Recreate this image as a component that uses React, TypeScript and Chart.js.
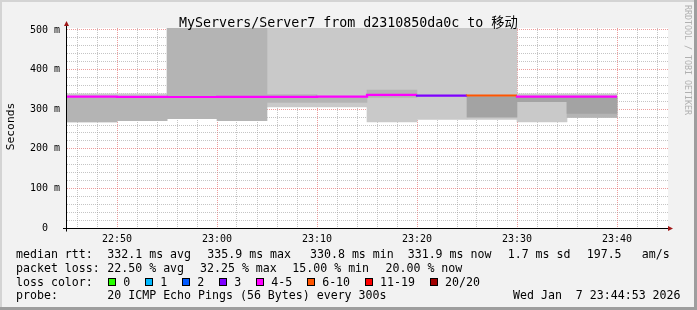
import { useEffect, useRef } from 'react';
import { Chart, registerables } from 'chart.js';

Chart.register(...registerables);

// ---------- data ----------
const axisStartTime = '22:45';
const axisEndTime = '23:45';
const segmentStarts = ['22:45', '22:50', '22:55', '23:00', '23:05', '23:10', '23:15', '23:20', '23:25', '23:30', '23:35'];
const segmentEnd = '23:40';
const xTickTimes = ['22:50', '23:00', '23:10', '23:20', '23:30', '23:40'];
const yTickValues = [0, 100, 200, 300, 400, 500];
const yTickLabels = ['0', '100 m', '200 m', '300 m', '400 m', '500 m'];

// smoke (ms) - outer light band, middle band, dark core band
const smokeLightLow = [268, 271, null, null, 306, 306, 268, 274, 274, 268, 279];
const smokeLightHigh = [339, 339, null, null, 520, 520, 520, 520, 520, 339, 339];
const smokeMidLow = [268, 271, 276, 271, 317, 317, 330, null, null, null, 279];
const smokeMidHigh = [331, 331, 520, 520, 337, 330, 348, null, null, null, 331];
const smokeDarkLow = [null, null, null, null, null, null, null, null, 280, 319, 289];
const smokeDarkHigh = [null, null, null, null, null, null, null, null, 332, 331, 331];

const medianRtt = [332, 331.5, 331, 330.8, 331, 331, 331.5, 335.9, 334, 334.5, 331.9];
const medianLoss = ['4-5', '4-5', '4-5', '4-5', '4-5', '4-5', '4-5', '3', '6-10', '4-5', '4-5'];

const lossLabels = ['0', '1', '2', '3', '4-5', '6-10', '11-19', '20/20'];
const lossColors = ['#26ff00', '#00b8ff', '#0059ff', '#7e00ff', '#ff00ff', '#ff5500', '#ff0000', '#a10000'];

const titleText = 'MyServers/Server7 from d2310850da0c to 移动';
const yAxisTitle = 'Seconds';
const watermark = 'RRDTOOL / TOBI OETIKER';
const rttLabel = 'median rtt:';
const rttStats = ['332.1 ms avg', '335.9 ms max', '330.8 ms min', '331.9 ms now', '1.7 ms sd', '197.5', 'am/s'];
const lossLabel = 'packet loss:';
const lossStats = ['22.50 % avg', '32.25 % max', '15.00 % min', '20.00 % now'];
const lossColorLabel = 'loss color:';
const probeLabel = 'probe:';
const probeText = '20 ICMP Echo Pings (56 Bytes) every 300s';
const dateText = 'Wed Jan  7 23:44:53 2026';

// ---------- layout (not data) ----------
const W = 697;
const H = 310;
const rttX = [107.3, 207.3, 310, 407.7, 507.7, 586.7, 641.7];
const lossX = [107.3, 200, 292.3, 385.5];
const legendBaselines = [258.3, 271.9, 285.5, 299.1];
const MONO = "'DejaVu Sans Mono', 'Noto Sans CJK SC', monospace";

const toMin = (t: string) => {
  const [h, m] = t.split(':').map(Number);
  const [bh, bm] = axisStartTime.split(':').map(Number);
  return h * 60 + m - (bh * 60 + bm);
};

const edges = [...segmentStarts, segmentEnd].map(toMin);
const mids = segmentStarts.map((_, i) => (edges[i] + edges[i + 1]) / 2);

const bandData = (lo: (number | null)[], hi: (number | null)[]) =>
  mids
    .map((x, i) => (lo[i] == null || hi[i] == null ? null : { x, y: [lo[i], hi[i]] }))
    .filter((d) => d !== null);

const xMajor = xTickTimes.map(toMin);
const xGrid: number[] = [];
for (let v = 1; v < toMin(axisEndTime); v += 2) xGrid.push(v);
const yGrid: number[] = [];
for (let v = 0; v <= 500; v += 20) yGrid.push(v);

const lossColorOf = (bucket: string) => lossColors[lossLabels.indexOf(bucket)];

const MINOR = 'rgba(150,150,150,0.55)';
const MAJOR = 'rgba(225,90,90,0.6)';

const rrdPlugin = {
  id: 'rrdLook',
  beforeDraw(chart: any) {
    const { ctx, chartArea: a } = chart;
    ctx.save();
    ctx.fillStyle = '#f2f2f2';
    ctx.fillRect(0, 0, W, H);
    ctx.fillStyle = '#d4d4d4';
    ctx.fillRect(0, 0, W, 2);
    ctx.fillRect(0, 0, 2, H);
    ctx.fillStyle = '#9e9e9e';
    ctx.fillRect(0, H - 3, W, 3);
    ctx.fillRect(W - 3, 0, 3, H);
    ctx.fillStyle = '#ffffff';
    ctx.fillRect(a.left, a.top, a.right - a.left, a.bottom - a.top);
    ctx.restore();
  },
  afterDraw(chart: any) {
    const { ctx, chartArea: a } = chart;
    const ys = chart.scales.y;
    const y0 = Math.round(ys.getPixelForValue(0)) + 0.5;
    const ax = a.left - 0.5;
    ctx.save();
    // axes
    ctx.strokeStyle = '#000';
    ctx.lineWidth = 1;
    ctx.beginPath();
    ctx.moveTo(a.left - 4, y0);
    ctx.lineTo(a.right + 1, y0);
    ctx.moveTo(ax, y0 + 3);
    ctx.lineTo(ax, a.top - 3);
    ctx.stroke();
    // arrows
    ctx.fillStyle = '#a01818';
    ctx.beginPath();
    ctx.moveTo(ax, a.top - 7);
    ctx.lineTo(ax - 2.5, a.top - 2);
    ctx.lineTo(ax + 2.5, a.top - 2);
    ctx.closePath();
    ctx.fill();
    ctx.beginPath();
    ctx.moveTo(a.right + 5, y0);
    ctx.lineTo(a.right, y0 - 2.5);
    ctx.lineTo(a.right, y0 + 2.5);
    ctx.closePath();
    ctx.fill();

    // title
    ctx.fillStyle = '#000';
    ctx.font = `13.3px ${MONO}`;
    ctx.textAlign = 'center';
    ctx.textBaseline = 'alphabetic';
    ctx.fillText(titleText, W / 2, 26.5);

    // y axis title
    ctx.save();
    ctx.font = `11.3px ${MONO}`;
    ctx.translate(11, 126.5);
    ctx.rotate(-Math.PI / 2);
    ctx.textAlign = 'center';
    ctx.textBaseline = 'middle';
    ctx.fillText(yAxisTitle, 0, 0);
    ctx.restore();

    // watermark
    ctx.save();
    ctx.font = `8.3px ${MONO}`;
    ctx.fillStyle = '#b0b0b0';
    ctx.translate(687, 5);
    ctx.rotate(Math.PI / 2);
    ctx.textAlign = 'left';
    ctx.textBaseline = 'middle';
    ctx.fillText(watermark, 0, 0);
    ctx.restore();

    // legend
    ctx.font = `11.6px ${MONO}`;
    ctx.textAlign = 'left';
    ctx.textBaseline = 'alphabetic';
    ctx.fillStyle = '#000';
    ctx.fillText(rttLabel, 16, legendBaselines[0]);
    rttStats.forEach((s, i) => ctx.fillText(s, rttX[i], legendBaselines[0]));
    ctx.fillText(lossLabel, 16, legendBaselines[1]);
    lossStats.forEach((s, i) => ctx.fillText(s, lossX[i], legendBaselines[1]));
    ctx.fillText(lossColorLabel, 16, legendBaselines[2]);
    let bx = 108.3;
    lossLabels.forEach((lab, i) => {
      const by = Math.round(legendBaselines[2] - 7.5);
      ctx.fillStyle = lossColors[i];
      ctx.fillRect(Math.round(bx), by, 8, 8);
      ctx.strokeStyle = '#000';
      ctx.strokeRect(Math.round(bx) + 0.5, by + 0.5, 7, 7);
      ctx.fillStyle = '#000';
      ctx.fillText(lab, bx + 15, legendBaselines[2]);
      bx = bx + 15 + ctx.measureText(lab).width + 15;
    });
    ctx.fillText(probeLabel, 16, legendBaselines[3]);
    ctx.fillText(probeText, 107.3, legendBaselines[3]);
    ctx.fillText(dateText, 513, legendBaselines[3]);
    ctx.restore();
  },
};

export default function App() {
  const ref = useRef<HTMLCanvasElement | null>(null);

  useEffect(() => {
    if (!ref.current) return;
    const barCommon = {
      type: 'bar' as const,
      xAxisID: 'xb',
      yAxisID: 'y',
      grouped: false,
      borderWidth: 0,
      barPercentage: 1,
      categoryPercentage: 1,
    };
    const lineData = [
      ...medianRtt.map((v, i) => ({ x: edges[i], y: v })),
      { x: edges[edges.length - 1], y: medianRtt[medianRtt.length - 1] },
    ];
    const chart = new Chart(ref.current, {
      type: 'line',
      data: {
        datasets: [
          {
            type: 'line',
            xAxisID: 'x',
            yAxisID: 'y',
            label: 'median rtt',
            data: lineData,
            stepped: 'after',
            borderWidth: 2.2,
            pointRadius: 0,
            fill: false,
            borderCapStyle: 'butt',
            segment: {
              borderColor: (c: any) => lossColorOf(medianLoss[Math.min(c.p0DataIndex, medianLoss.length - 1)]),
            },
            borderColor: lossColorOf('4-5'),
          } as any,
          { ...barCommon, label: 'dark', data: bandData(smokeDarkLow, smokeDarkHigh), backgroundColor: '#a3a3a3' } as any,
          { ...barCommon, label: 'mid', data: bandData(smokeMidLow, smokeMidHigh), backgroundColor: '#b4b4b4' } as any,
          { ...barCommon, label: 'light', data: bandData(smokeLightLow, smokeLightHigh), backgroundColor: '#c9c9c9' } as any,
        ],
      },
      options: {
        responsive: false,
        animation: false,
        events: [],
        layout: { padding: { top: 28, right: 29, bottom: 62, left: 0 } },
        plugins: { legend: { display: false }, tooltip: { enabled: false }, title: { display: false } },
        scales: {
          x: {
            type: 'linear',
            offset: false,
            min: 0,
            max: 60.1,
            z: 1,
            afterBuildTicks: (s: any) => {
              s.ticks = xGrid.map((v) => ({ value: v }));
            },
            afterFit: (s: any) => {
              s.height = 20;
            },
            grid: {
              offset: false,
              drawTicks: false,
              lineWidth: 1,
              color: (c: any) => (xMajor.includes(c.tick?.value) ? MAJOR : MINOR),
              borderDash: [1, 1],
            },
            border: { display: false, dash: [1, 1] },
            ticks: {
              autoSkip: false,
              maxRotation: 0,
              padding: 5,
              color: '#000',
              font: { family: MONO, size: 10 },
              callback: (v: any) => {
                const i = xMajor.indexOf(Number(v));
                return i >= 0 ? xTickTimes[i] : '';
              },
            },
          },
          xb: {
            type: 'linear',
            axis: 'x',
            display: false,
            offset: false,
            grid: { offset: false },
            min: 0,
            max: 60.1,
            afterBuildTicks: (s: any) => {
              s.ticks = [{ value: 0 }];
            },
          },
          y: {
            type: 'linear',
            min: 0,
            max: 505,
            z: 1,
            afterBuildTicks: (s: any) => {
              s.ticks = yGrid.map((v) => ({ value: v }));
            },
            afterFit: (s: any) => {
              s.width = 67;
            },
            grid: {
              drawTicks: false,
              lineWidth: 1,
              color: (c: any) => (yTickValues.includes(c.tick?.value) ? MAJOR : MINOR),
              borderDash: [1, 1],
            },
            border: { display: false, dash: [1, 1] },
            ticks: {
              autoSkip: false,
              padding: 7,
              color: '#000',
              font: { family: MONO, size: 10 },
              callback: (v: any) => {
                const i = yTickValues.indexOf(Number(v));
                if (i < 0) return '';
                const lab = yTickLabels[i];
                return lab.includes(' ') ? lab : lab + '  ';
              },
            },
          },
        },
      } as any,
      plugins: [rrdPlugin],
    });
    return () => chart.destroy();
  }, []);

  return (
    <div style={{ position: 'absolute', left: 0, top: 0, width: W, height: H }}>
      <canvas ref={ref} width={W} height={H} style={{ display: 'block', width: W, height: H }} />
    </div>
  );
}
